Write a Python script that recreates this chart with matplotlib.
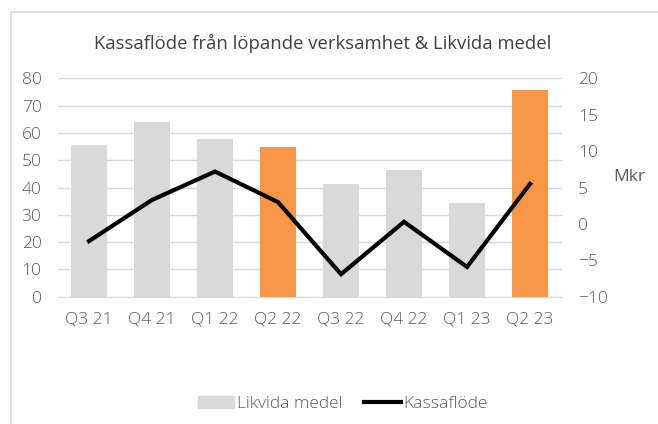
import numpy as np
import matplotlib
matplotlib.use("Agg")
import matplotlib.pyplot as plt
from matplotlib.lines import Line2D

quarters = ["Q3 21", "Q4 21", "Q1 22", "Q2 22", "Q3 22", "Q4 22", "Q1 23", "Q2 23"]
likvida = [55.6, 64.0, 57.8, 54.8, 41.3, 46.4, 34.4, 75.7]
kassaflode = [-2.35, 3.3, 7.2, 3.0, -6.9, 0.3, -5.9, 5.5]
highlight = ["Q2 22", "Q2 23"]

GREY = "#d9d9d9"
ORANGE = "#f79646"
TXT = "#595959"

plt.rcParams["font.family"] = ["Open Sans", "DejaVu Sans"]
plt.rcParams["font.weight"] = "light"

fig = plt.figure(figsize=(6.58, 4.24), dpi=100)
ax = fig.add_axes([0.0874, 0.300, 0.766, 0.5153])
ax2 = ax.twinx()

x = np.arange(len(quarters))
colors = [ORANGE if q in highlight else GREY for q in quarters]
ax.bar(x, likvida, width=0.56, color=colors, zorder=2)
ax2.plot(x, kassaflode, color="black", lw=3, solid_joinstyle="miter", zorder=3)

ax.set_xlim(-0.5, len(quarters) - 0.5)
ax.set_ylim(0, 80)
ax.set_yticks(range(0, 81, 10))
ax2.set_ylim(-10, 20)
ax2.set_yticks(range(-10, 21, 5))
ax.set_xticks(x)
ax.set_xticklabels(quarters)

ax.grid(axis="y", color="#d9d9d9", lw=1, zorder=0)
ax.set_axisbelow(True)
for a in (ax, ax2):
    for s in a.spines.values():
        s.set_visible(False)
    a.tick_params(length=0, labelsize=12.5, labelcolor=TXT)
ax.spines["bottom"].set_visible(True)
ax.spines["bottom"].set_color("#d9d9d9")
ax.tick_params(axis="x", pad=10.5)
ax.tick_params(axis="y", pad=11.5)
ax2.tick_params(axis="y", pad=12)
ax.set_zorder(ax2.get_zorder() - 1)
ax2.patch.set_visible(False)

ax2.set_ylabel("Mkr", rotation=0, fontsize=12.5, color=TXT, va="center", ha="left")
ax2.yaxis.set_label_coords((613 - 57.5) / 504, (424 - 177 - 127.3) / 218.4)

fig.text(0.49, 0.898, "Kassaflöde från löpande verksamhet & Likvida medel",
         ha="center", va="center", fontsize=13.3, fontweight="normal",
         color="#404040")

handles = [plt.Rectangle((0, 0), 1, 1, color=GREY),
           Line2D([0], [0], color="black", lw=3)]
fig.legend(handles, ["Likvida medel", "Kassaflöde"], loc="center",
           bbox_to_anchor=(0.521, 0.048), ncol=2, frameon=False,
           fontsize=12.5, labelcolor=TXT, handlelength=2.1,
           handletextpad=0.15, columnspacing=1.25)

# chart frame
fig.add_artist(Line2D([11 / 658, 1], [1 - 12 / 424, 1 - 12 / 424],
                      transform=fig.transFigure, color="#d9d9d9", lw=1.2))
fig.add_artist(Line2D([11 / 658, 11 / 658], [0, 1 - 12 / 424],
                      transform=fig.transFigure, color="#d9d9d9", lw=1.2))

fig.savefig("out.png", dpi=100, facecolor="w")
